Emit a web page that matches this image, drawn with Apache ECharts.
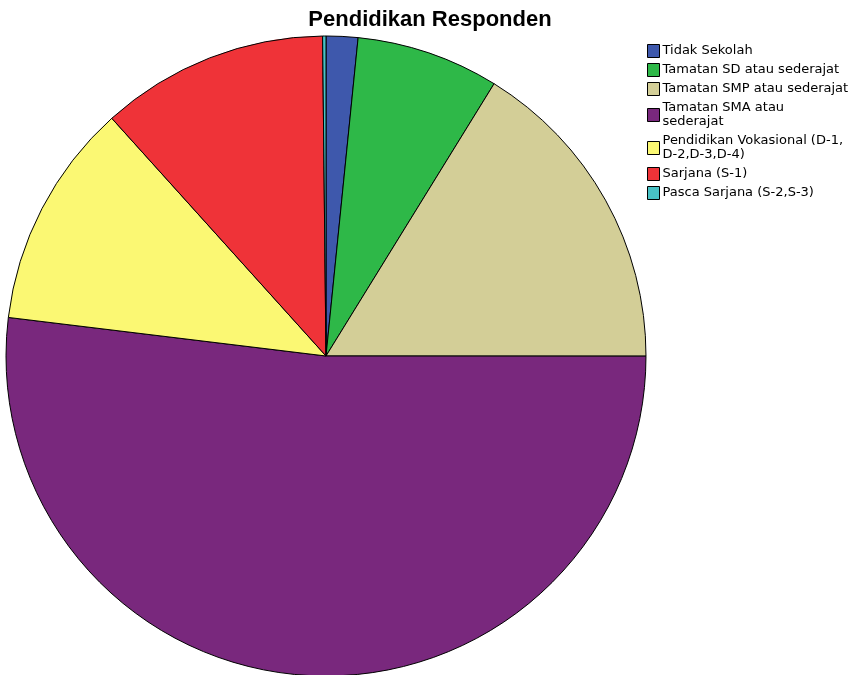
<!DOCTYPE html>
<html>
<head>
<meta charset="utf-8">
<script src="https://cdn.jsdelivr.net/npm/echarts@6/dist/echarts.min.js"></script>
<style>
  html, body { margin: 0; padding: 0; background: #ffffff; }
  #chart { width: 860px; height: 675px; }
</style>
</head>
<body>
<div id="chart"></div>
<script>
// Education level of respondents (percent share)
const categories = [
  'Tidak Sekolah',
  'Tamatan SD atau sederajat',
  'Tamatan SMP atau sederajat',
  'Tamatan SMA atau\nsederajat',
  'Pendidikan Vokasional (D-1,\nD-2,D-3,D-4)',
  'Sarjana (S-1)',
  'Pasca Sarjana (S-2,S-3)'
];
const values = [1.6, 7.2, 16.2, 51.9, 11.4, 11.5, 0.17];
const colors = ['#3E58AC', '#2EB848', '#D3CE97', '#79287D', '#FBF873', '#EF3338', '#48C2C5'];

const chart = echarts.init(document.getElementById('chart'), null, { renderer: 'canvas' });

chart.setOption({
  animation: false,
  backgroundColor: '#ffffff',
  title: {
    text: 'Pendidikan Responden',
    left: 'center',
    top: 9,
    padding: 0,
    textStyle: {
      fontFamily: 'Liberation Sans',
      fontWeight: 'bold',
      fontSize: 22,
      color: '#000000'
    }
  },
  legend: {
    orient: 'vertical',
    left: 647,
    top: 44,
    padding: 0,
    itemWidth: 12,
    itemHeight: 13,
    itemGap: 5,
    icon: 'rect',
    selectedMode: false,
    data: categories,
    itemStyle: { borderColor: '#000000', borderWidth: 1 },
    textStyle: {
      fontFamily: 'DejaVu Sans',
      fontSize: 13,
      lineHeight: 14,
      color: '#000000',
      padding: [0, 0, 0, -2]
    }
  },
  series: [{
    type: 'pie',
    center: [326, 356],
    radius: 320,
    startAngle: 90,
    clockwise: true,
    label: { show: false },
    labelLine: { show: false },
    emphasis: { disabled: true },
    itemStyle: { borderColor: '#000000', borderWidth: 1 },
    data: categories.map((name, i) => ({
      name: name,
      value: values[i],
      itemStyle: { color: colors[i] }
    }))
  }]
});
</script>
</body>
</html>
